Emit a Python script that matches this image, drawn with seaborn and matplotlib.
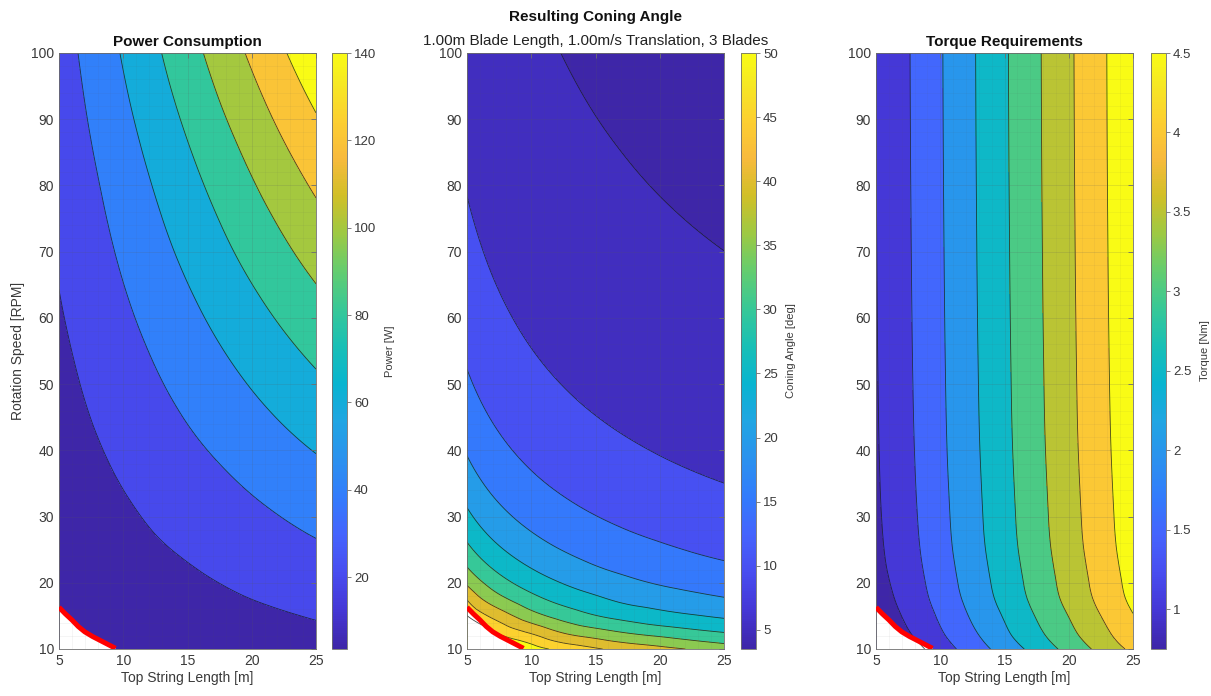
import numpy as np
import matplotlib
matplotlib.use("Agg")
import matplotlib.pyplot as plt
import matplotlib.tri as mtri
from matplotlib.colors import LinearSegmentedColormap, Normalize
from matplotlib.cm import ScalarMappable
from matplotlib.ticker import FormatStrFormatter
import seaborn as sns

# ---------------------------------------------------------------- data
string_length = [5, 7.5, 10, 12.5, 15, 17.5, 20, 22.5, 25]                 # m
rotation_speed = [10, 12.5, 15, 17.5, 20, 25, 30, 40, 50, 60, 70, 80, 90, 100]  # RPM

# rows follow rotation_speed, columns follow string_length
power_w = [
    [1.4, 2.4, 3.9, 5.4, 6.9, 8.4, 9.9, 11.4, 12.9],
    [2.4, 3.8, 5.7, 7.6, 9.5, 11.4, 13.3, 15.2, 17.1],
    [3.3, 5.1, 7.4, 9.7, 12.0, 14.3, 16.5, 18.8, 21.1],
    [4.3, 6.5, 9.2, 11.9, 14.6, 17.3, 20.0, 22.7, 25.3],
    [5.3, 7.8, 10.9, 13.9, 17.0, 20.1, 23.2, 26.3, 29.3],
    [7.1, 10.4, 14.2, 18.1, 21.9, 25.8, 29.6, 33.5, 37.3],
    [8.8, 12.8, 17.4, 22.1, 26.7, 31.3, 35.9, 40.5, 45.1],
    [12.1, 17.7, 23.9, 30.0, 36.2, 42.3, 48.5, 54.7, 60.8],
    [15.3, 22.6, 30.3, 38.0, 45.7, 53.4, 61.1, 68.8, 76.5],
    [18.6, 27.3, 36.6, 45.8, 55.0, 64.3, 73.5, 82.8, 92.0],
    [21.8, 32.1, 42.9, 53.7, 64.4, 75.2, 86.0, 96.8, 107.5],
    [25.0, 36.7, 49.0, 61.3, 73.6, 85.9, 98.3, 110.6, 122.9],
    [28.3, 41.6, 55.4, 69.3, 83.1, 97.0, 110.8, 124.7, 138.5],
    [31.4, 46.2, 61.6, 77.0, 92.4, 107.8, 123.2, 138.6, 154.0],
]

coning_deg = [
    [68.4, 58.3, 52.3, 48.6, 45.6, 43.4, 41.5, 39.6, 37.8],
    [57.4, 49.3, 44.4, 39.7, 37.0, 34.7, 33.0, 31.4, 30.0],
    [50.1, 42.7, 37.0, 33.1, 30.2, 28.2, 26.6, 25.4, 24.3],
    [44.8, 36.6, 31.7, 28.3, 25.9, 23.9, 22.7, 21.5, 20.4],
    [39.2, 32.0, 27.72, 24.79, 22.63, 20.96, 19.6, 18.5, 17.6],
    [31.36, 25.6, 22.18, 19.83, 18.1, 16.76, 15.68, 14.78, 14.02],
    [26.13, 21.33, 18.48, 16.53, 15.09, 13.97, 13.07, 12.32, 11.69],
    [19.6, 16.0, 13.86, 12.4, 11.32, 10.48, 9.8, 9.24, 8.77],
    [15.68, 12.8, 11.09, 9.92, 9.05, 8.38, 7.84, 7.39, 7.01],
    [13.07, 10.67, 9.24, 8.26, 7.54, 6.99, 6.53, 6.16, 5.84],
    [11.2, 9.14, 7.92, 7.08, 6.47, 5.99, 5.6, 5.28, 5.01],
    [9.8, 8.0, 6.93, 6.2, 5.66, 5.24, 4.9, 4.62, 4.38],
    [8.71, 7.11, 6.16, 5.51, 5.03, 4.66, 4.36, 4.11, 3.9],
    [7.84, 6.4, 5.54, 4.96, 4.53, 4.19, 3.92, 3.7, 3.51],
]

torque_nm = [
    [0.45, 0.77, 1.25, 1.73, 2.21, 2.68, 3.16, 3.64, 4.12],
    [0.60, 0.97, 1.45, 1.93, 2.42, 2.90, 3.38, 3.86, 4.35],
    [0.71, 1.09, 1.57, 2.06, 2.54, 3.03, 3.51, 4.00, 4.48],
    [0.78, 1.18, 1.67, 2.16, 2.65, 3.14, 3.63, 4.12, 4.61],
    [0.84, 1.24, 1.73, 2.22, 2.71, 3.20, 3.69, 4.18, 4.67],
    [0.90, 1.32, 1.81, 2.30, 2.79, 3.28, 3.77, 4.26, 4.75],
    [0.93, 1.36, 1.85, 2.34, 2.83, 3.32, 3.81, 4.30, 4.79],
    [0.958, 1.405, 1.895, 2.385, 2.875, 3.365, 3.855, 4.345, 4.835],
    [0.972, 1.428, 1.918, 2.408, 2.898, 3.388, 3.878, 4.368, 4.858],
    [0.982, 1.442, 1.932, 2.422, 2.912, 3.402, 3.892, 4.382, 4.872],
    [0.989, 1.452, 1.942, 2.432, 2.922, 3.412, 3.902, 4.392, 4.882],
    [0.994, 1.46, 1.95, 2.44, 2.93, 3.42, 3.91, 4.40, 4.89],
    [0.998, 1.466, 1.956, 2.446, 2.936, 3.426, 3.916, 4.406, 4.896],
    [1.0, 1.47, 1.96, 2.45, 2.94, 3.43, 3.92, 4.41, 4.90],
]

power_levels = [20, 40, 60, 80, 100, 120, 140]
coning_levels = [5, 10, 15, 20, 25, 30, 35, 40, 45, 50]
torque_levels = [1, 1.5, 2, 2.5, 3, 3.5, 4, 4.5]

# operating limit: combinations below this curve are not feasible
limit_length = [5, 5.5, 6, 6.5, 7, 7.6, 8.2, 8.8, 9.4]
limit_speed = [16.3, 15.3, 14.4, 13.4, 12.6, 11.9, 11.3, 10.7, 10.1]

x_ticks = [5, 10, 15, 20, 25]
y_ticks = [10, 20, 30, 40, 50, 60, 70, 80, 90, 100]

# ---------------------------------------------------------------- style
sns.set_theme(style="white")
plt.rcParams["font.family"] = ["Liberation Sans", "DejaVu Sans"]

parula_anchors = [
    (0.2422, 0.1504, 0.6603), (0.2706, 0.2147, 0.8364), (0.2813, 0.3006, 0.9414),
    (0.2699, 0.3892, 0.9906), (0.1963, 0.4847, 0.9892), (0.1687, 0.5703, 0.9359),
    (0.1248, 0.6459, 0.8883), (0.0297, 0.7082, 0.8163), (0.0964, 0.7500, 0.7120),
    (0.2161, 0.7843, 0.5923), (0.3909, 0.8029, 0.4354), (0.6174, 0.7876, 0.2612),
    (0.8203, 0.7498, 0.1535), (0.9728, 0.7298, 0.2394), (0.9892, 0.8136, 0.1885),
    (0.9631, 0.9135, 0.1380), (0.9769, 0.9839, 0.0805),
]
anchor_pos = [i * 4 / 63 for i in range(16)] + [1.0]
parula = LinearSegmentedColormap.from_list("parula", list(zip(anchor_pos, parula_anchors)))

TEXT = "#3a3a3a"
AXIS = "#6e6e6e"

fig = plt.figure(figsize=(12.11, 6.96), dpi=100)
fig.patch.set_facecolor("white")

W, H = 1211.0, 696.0
ax_top, ax_bottom = 53, 649
ax_lefts = [59, 467, 876]
ax_width = 257
cb_lefts = [332, 741, 1151]
cb_width = 15


def fig_rect(left, width):
    return [left / W, (H - ax_bottom) / H, width / W, (ax_bottom - ax_top) / H]


# Triangulated table in log-log space; each field is interpolated there in log form
# (all three quantities vary close to a power law in both length and speed),
# then subdivided so the contours come out smooth in linear axes.
L_arr = np.asarray(string_length, float)
S_arr = np.asarray(rotation_speed, float)
LL, SS = np.meshgrid(L_arr, S_arr)
nx, ny = len(L_arr), len(S_arr)
tris = []
for i in range(ny - 1):
    for j in range(nx - 1):
        a = i * nx + j
        b = a + 1
        c = a + nx
        d = c + 1
        tris.append([a, b, d])
        tris.append([a, d, c])
tris = np.array(tris)
lx_lo, lx_hi = np.log(L_arr[0]), np.log(L_arr[-1])
ly_lo, ly_hi = np.log(S_arr[0]), np.log(S_arr[-1])
base_tri = mtri.Triangulation((np.log(LL.ravel()) - lx_lo) / (lx_hi - lx_lo),
                              (np.log(SS.ravel()) - ly_lo) / (ly_hi - ly_lo), tris)
refiner = mtri.UniformTriRefiner(base_tri)


def refined(table):
    log_z = np.log(np.asarray(table, float).ravel())
    interp = mtri.CubicTriInterpolator(base_tri, log_z, kind="min_E")
    tri_r, lz_r = refiner.refine_field(log_z, triinterpolator=interp, subdiv=4)
    x_data = np.exp(tri_r.x * (lx_hi - lx_lo) + lx_lo)
    y_data = np.exp(tri_r.y * (ly_hi - ly_lo) + ly_lo)
    return mtri.Triangulation(x_data, y_data, tri_r.triangles), np.exp(lz_r)


def draw_panel(ax, cax, table, levels, cbar_label, tick_fmt):
    tri_plot, z = refined(table)
    feasible = tri_plot.y >= np.interp(tri_plot.x, limit_length, limit_speed) - 1e-9
    zmin = float(z[feasible].min())
    norm = Normalize(vmin=zmin, vmax=levels[-1])
    bounds = [min(z.min(), zmin) - 1.0] + list(levels) + [max(z.max(), levels[-1]) + 1.0]
    band_colors = [parula(norm(zmin))] + [parula(norm(v)) for v in levels]
    ax.tricontourf(tri_plot, z, levels=bounds, colors=band_colors, zorder=1)
    ax.tricontour(tri_plot, z, levels=levels, colors="#1a1a1a",
                  linewidths=0.6, alpha=0.8, zorder=2)
    # blank the infeasible corner and mark its boundary
    ax.fill_between(limit_length, limit_speed, S_arr[0], color="white",
                    lw=0, zorder=1.5)
    ax.plot(limit_length, limit_speed, color="#ff0000", lw=3.6,
            solid_capstyle="butt", zorder=3)

    ax.set_xlim(L_arr[0], L_arr[-1])
    ax.set_ylim(S_arr[0], S_arr[-1])
    ax.set_xticks(x_ticks)
    ax.set_yticks(y_ticks)
    ax.set_xticks(np.arange(5, 26, 1), minor=True)
    ax.set_yticks(np.arange(10, 101, 2), minor=True)
    ax.set_axisbelow(False)
    ax.grid(True, which="major", color="#5a5a5a", alpha=0.18, lw=0.6)
    ax.grid(True, which="minor", color="#5a5a5a", alpha=0.08, lw=0.5)
    ax.tick_params(which="major", direction="in", length=3.5, width=0.6,
                   top=True, right=True, colors=AXIS, labelcolor=TEXT, labelsize=10)
    ax.tick_params(which="minor", length=0)
    for s in ax.spines.values():
        s.set_color(AXIS)
        s.set_linewidth(0.6)
    ax.set_xlabel("Top String Length [m]", fontsize=10, color=TEXT, labelpad=2)

    cb = fig.colorbar(ScalarMappable(norm=norm, cmap=parula), cax=cax)
    cb.set_ticks(levels)
    cb.ax.yaxis.set_major_formatter(FormatStrFormatter(tick_fmt))
    cb.ax.tick_params(direction="out", length=3, width=0.6, colors=AXIS,
                      labelcolor=TEXT, labelsize=9.5, pad=2)
    cb.outline.set_edgecolor(AXIS)
    cb.outline.set_linewidth(0.6)
    cb.set_label(cbar_label, fontsize=8, color=TEXT, labelpad=6)


axes, caxes = [], []
for axl, cbl in zip(ax_lefts, cb_lefts):
    axes.append(fig.add_axes(fig_rect(axl, ax_width)))
    caxes.append(fig.add_axes(fig_rect(cbl, cb_width)))

draw_panel(axes[0], caxes[0], power_w, power_levels, "Power [W]", "%g")
draw_panel(axes[1], caxes[1], coning_deg, coning_levels, "Coning Angle [deg]", "%g")
draw_panel(axes[2], caxes[2], torque_nm, torque_levels, "Torque [Nm]", "%g")

axes[0].set_ylabel("Rotation Speed [RPM]", fontsize=10, color=TEXT, labelpad=4)
axes[0].set_title("Power Consumption", fontsize=11, fontweight="bold",
                  color="#111111", pad=5)
axes[2].set_title("Torque Requirements", fontsize=11, fontweight="bold",
                  color="#111111", pad=5)
axes[1].set_title("1.00m Blade Length, 1.00m/s Translation, 3 Blades",
                  fontsize=11, color="#222222", pad=6)
axes[1].annotate("Resulting Coning Angle", xy=(0.5, 1.0), xycoords="axes fraction",
                 xytext=(0, 21), textcoords="offset points", ha="center",
                 va="bottom", fontsize=11, fontweight="bold", color="#111111")

fig.savefig("out.png", dpi=100, facecolor="white")
